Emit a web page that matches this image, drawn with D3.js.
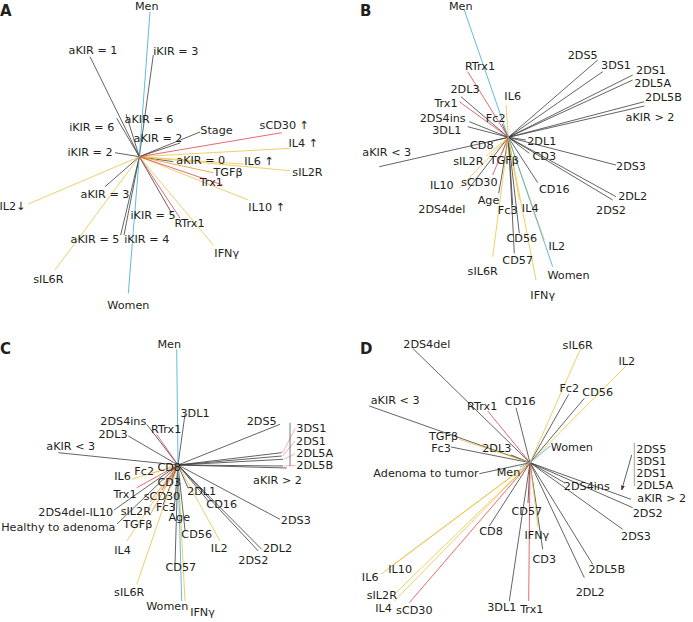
<!DOCTYPE html>
<html>
<head>
<meta charset="utf-8">
<script src="https://cdn.jsdelivr.net/npm/d3@7"></script>
<style>
body { margin: 0; background: #fff; }
text { font-family: "DejaVu Sans", Verdana, sans-serif; fill: #231f20; }
</style>
</head>
<body>
<div id="graph"></div>
<script>
// ---- Panel A: loadings (x, y) per term ----
const termsA = ["Men", "Women", "aKIR = 1", "iKIR = 3", "aKIR = 6", "iKIR = 6", "aKIR = 2", "Stage", "iKIR = 2",
    "sCD30 \u2191", "IL4 \u2191", "aKIR = 0", "IL6 \u2191", "sIL2R", "TGF\u03b2", "Trx1", "IL10 \u2191", "IFN\u03b3",
    "RTrx1", "iKIR = 5", "iKIR = 4", "aKIR = 5", "aKIR = 3", "IL2\u2193", "sIL6R"];
const xA = [0.107, -0.11, -0.493, 0.14, -0.133, -0.226, 0.407, 0.607, -0.243, 1.424, 1.507, 0.34, 1.037, 1.507,
    0.74, 0.834, 1.09, 0.74, 0.407, 0.324, -0.153, -0.186, -0.343, -1.11, -0.843];
const yA = [1.45, -1.366, 1.0, 1.017, 0.427, 0.384, 0.137, 0.247, 0.04, 0.24, 0.084, -0.05, -0.073, -0.14,
    -0.16, -0.283, -0.433, -0.883, -0.613, -0.566, -0.783, -0.783, -0.3, -0.473, -1.133];
const groupA = ["sex", "sex", "kir", "kir", "kir", "kir", "kir", "clin", "kir", "redox", "cyto", "kir", "cyto", "cyto",
    "tgf", "redox", "cyto", "cyto", "redox", "kir", "kir", "kir", "kir", "cyto", "cyto"];

// ---- Panel B ----
const termsB = ["Men", "Women", "RTrx1", "2DL3", "Trx1", "IL6", "Fc2", "2DS4ins", "3DL1", "CD8", "aKIR < 3", "sIL2R",
    "TGF\u03b2", "IL10", "sCD30", "2DS4del", "Age", "Fc3", "IL4", "CD56", "CD57", "sIL6R", "IFN\u03b3", "IL2", "CD16",
    "CD3", "2DL1", "2DS3", "2DL2", "2DS2", "2DS5", "3DS1", "2DS1", "2DL5A", "2DL5B", "aKIR > 2"];
const xB = [-0.44, 0.444, -0.406, -0.473, -0.49, -0.023, -0.063, -0.39, -0.406, -0.153, -1.29, -0.223, -0.063, -0.49,
    -0.156, -0.406, -0.096, 0.044, 0.11, 0.11, 0.06, -0.156, 0.277, 0.36, 0.294, 0.21, 0.177, 1.077, 1.077, 1.044,
    0.894, 0.944, 1.244, 1.244, 1.36, 1.36];
const yB = [1.273, -1.294, 0.656, 0.406, 0.356, 0.323, 0.133, 0.156, 0.106, -0.037, -0.294, -0.187, -0.16, -0.51,
    -0.377, -0.527, -0.56, -0.677, -0.627, -0.96, -1.16, -1.194, -1.427, -1.027, -0.454, -0.16, -0.027, -0.277, -0.594,
    -0.627, 0.773, 0.656, 0.623, 0.573, 0.356, 0.313];
const groupB = ["sex", "sex", "redox", "kir", "redox", "cyto", "cell", "kir", "kir", "cell", "kir", "cyto", "tgf", "cyto",
    "redox", "kir", "clin", "cell", "cyto", "cell", "cell", "cyto", "cyto", "cyto", "cell", "cell", "kir", "kir", "kir",
    "kir", "kir", "kir", "kir", "kir", "kir", "kir"];

// ---- Panel C ----
const termsC = ["Men", "Women", "IFN\u03b3", "3DL1", "RTrx1", "2DS4ins", "2DL3", "aKIR < 3", "2DS5", "3DS1", "2DS1",
    "2DL5A", "2DL5B", "aKIR > 2", "2DS3", "2DL2", "2DS2", "CD16", "2DL1", "IL2", "CD56", "CD57", "Age", "Fc3", "sCD30",
    "CD3", "CD8", "Fc2", "IL6", "Trx1", "sIL2R", "2DS4del-IL10", "Healthy to adenoma", "TGF\u03b2", "IL4", "sIL6R"];
const xC = [-0.013, 0.037, 0.07, 0.07, -0.213, -0.313, -0.497, -1.197, 1.02, 1.037, 1.037, 1.05, 1.05, 1.087, 1.02,
    0.837, 0.803, 0.303, 0.1, 0.42, 0.07, -0.03, -0.04, -0.15, -0.16, -0.06, -0.03, -0.247, -0.463, -0.413, -0.28,
    -0.64, -0.61, -0.28, -0.513, -0.413];
const yC = [1.157, -1.36, -1.36, 0.507, 0.307, 0.407, 0.29, 0.123, 0.407, 0.123, 0.09, 0.057, -0.01, -0.03, -0.543,
    -0.843, -0.86, -0.36, -0.23, -0.76, -0.65, -0.993, -0.46, -0.4, -0.25, -0.13, -0.02, -0.08, -0.143, -0.227, -0.37,
    -0.45, -0.59, -0.5, -0.76, -1.193];
const groupC = ["sex", "sex", "cyto", "kir", "redox", "kir", "kir", "kir", "kir", "kir", "kir", "kir", "kir", "kir", "kir",
    "kir", "kir", "cell", "kir", "cyto", "cell", "cell", "clin", "cell", "redox", "cell", "cell", "cyto", "cyto", "redox",
    "tgf", "kir", "clin", "tgf", "cyto", "cyto"];
const calloutC = ["3DS1", "2DS1", "2DL5A", "2DL5B"];

// ---- Panel D ----
const termsD = ["2DS4del", "sIL6R", "IL2", "Fc2", "CD56", "CD16", "RTrx1", "aKIR < 3", "TGF\u03b2", "Fc3", "2DL3",
    "Women", "Adenoma to tumor", "Men", "2DS4ins", "aKIR > 2", "2DS2", "2DS3", "2DL5B", "2DL2", "CD3", "IFN\u03b3",
    "CD57", "Trx1", "3DL1", "CD8", "sCD30", "IL4", "sIL2R", "IL6", "IL10"];
const xD = [-1.173, 0.51, 0.96, 0.387, 0.543, -0.14, -0.423, -1.607, -0.707, -0.79, -0.19, 0.2, -0.507, -0.1, 0.35,
    1.01, 1.027, 0.927, 0.627, 0.543, 0.127, 0.08, -0.02, -0.013, -0.207, -0.407, -1.207, -1.357, -1.34, -1.49, -1.407];
const yD = [1.144, 1.15, 0.967, 0.684, 0.644, 0.55, 0.517, 0.567, 0.234, 0.157, 0.077, 0.167, -0.11, -0.043, -0.203,
    -0.366, -0.45, -0.666, -1.016, -1.15, -0.866, -0.643, -0.403, -1.383, -1.383, -0.633, -1.4, -1.383, -1.3, -1.116,
    -1.05];
const groupD = ["kir", "cyto", "cyto", "cell", "cell", "cell", "redox", "kir", "cyto", "cell", "kir", "sex", "clin", "sex",
    "kir", "kir", "kir", "kir", "kir", "kir", "cell", "cyto", "cell", "redox", "kir", "cell", "redox", "cyto", "cyto",
    "cyto", "cyto"];
const bracketTermsD = ["2DS5", "3DS1", "2DS1", "2DL5A"];

// ---- layout: label offsets (px) from each vector tip ----
const offA = [[-3.3, -5], [0, 11.7], [3, -6.7], [22.5, -4], [23, 5.3], [-25, 9.4], [-22, -5], [16.5, -2], [-25, 0],
    [2.6, -7.7], [13.3, -5], [27.5, -1], [16, -3], [17.5, 2], [14.7, 0], [-11.4, -2.3], [18.4, 7.7], [13.4, 8.3],
    [9.5, 5.3], [-18.7, 1.7], [22.7, 4.3], [-25.7, 4.3], [0, 7.6], [-15.8, 2.7], [-6.7, 9.3]];
const offB = [[-3.5, -3.3], [15.8, 8.3], [12.3, -5], [4, -7.4], [-13.3, 1.6], [6.7, -8.3], [-6.3, -5.7], [-26.6, -3.4],
    [-20.9, 3.3], [-11.2, 4], [7.5, -14], [-17.7, 5], [2.3, 6.7], [-17.5, -3.3], [-13.4, 7.7], [-25.9, 19.3],
    [-10.2, 6.7], [-5, 5.7], [10.9, 8.3], [2.5, 5], [3.4, 6.7], [-10, 15], [6.7, 15], [12.5, 6], [16.6, 6.6], [15, 3.4],
    [15.8, 1.7], [15, 1], [16.7, 0], [-1.7, 10.7], [-15, -5], [13.3, -6.7], [18.3, -4.8], [20, 3], [19.2, -4],
    [5.7, 11.3]];
const offC = [[-7.5, -5], [-14.5, 5], [17.5, 11.7], [10, -0.6], [9.5, -5], [-23.4, -3.3], [-15.3, -1.7], [12.5, -6.7],
    [-18.3, -3.3], [29.6, -24.4], [29.3, -15], [31.7, -5.5], [31.7, -0.5], [-9.2, 12.3], [15.8, 1], [15.8, -1],
    [-5, 9.3], [13.4, 3.3], [13.7, 3], [-0.8, 7.3], [11.7, 4.3], [5.8, 3.4], [5.2, 6.7], [2.8, 2.7], [0, 6],
    [-2.8, 4.7], [-5.8, 0], [-9.1, -2], [-9.2, -3.3], [-11.7, 6.6], [-14.2, 9], [-38.2, 2.7], [-58.7, 3.7],
    [-12.2, 9.3], [-4.2, 9.3], [-7.5, 8.4]];
const offD = [[14.1, -4], [-3.3, -2.4], [0.8, -5], [0.6, -6], [13.4, -5.6], [4.2, -6.7], [-5.5, -5], [25.9, -5.7],
    [-15.8, -3], [-10, 1.2], [-14.2, -6.7], [21.8, 1.7], [-53.3, 0], [-11.5, 5.7], [21.8, 3], [30.8, -1], [15, 5.6],
    [13.3, 6.7], [14.1, 5], [5.9, 15], [1.6, 10], [-1.2, 8], [-1.2, 8], [3.1, 8.3], [-7.5, 6.7], [1.7, 5], [5, 7.6],
    [-10.8, 7.2], [-14.2, 2.4], [-10.8, 2.7], [10.9, 1.6]];

const width = 693;
const height = 622;

const svg = d3.select("#graph")
    .append("svg")
    .attr("width", width)
    .attr("height", height);

const colour = {
    sex: "#3aa8dc", cyto: "#e9c343", redox: "#e0424f", tgf: "#e6912e",
    kir: "#3c3c3c", cell: "#3c3c3c", clin: "#3c3c3c"
};
const drawOrder = { kir: 0, cell: 0, clin: 0, cyto: 1, tgf: 2, redox: 3, sex: 4 };

svg.append("defs").append("marker")
    .attr("id", "arrow")
    .attr("viewBox", "0 0 10 10")
    .attr("refX", 9).attr("refY", 5)
    .attr("markerWidth", 6).attr("markerHeight", 6)
    .attr("orient", "auto")
    .append("path")
    .attr("d", "M0,1 L10,5 L0,9 Z")
    .attr("fill", "#333");

const panels = [
    { tag: "A", tagPos: [0, 16], cx: 139.3, cy: 156.7, terms: termsA, xs: xA, ys: yA, groups: groupA, offs: offA },
    { tag: "B", tagPos: [360, 16], cx: 508.3, cy: 137.3, terms: termsB, xs: xB, ys: yB, groups: groupB, offs: offB },
    { tag: "C", tagPos: [0, 354], cx: 178, cy: 465, terms: termsC, xs: xC, ys: yC, groups: groupC, offs: offC },
    { tag: "D", tagPos: [360, 354], cx: 530, cy: 462.7, terms: termsD, xs: xD, ys: yD, groups: groupD, offs: offD }
];

panels.forEach(p => {
    // 1 loading unit = 100 px
    const x = d3.scaleLinear().domain([0, 1]).range([p.cx, p.cx + 100]);
    const y = d3.scaleLinear().domain([0, 1]).range([p.cy, p.cy - 100]);

    const rows = p.terms.map((t, i) => ({
        term: t, x: p.xs[i], y: p.ys[i], group: p.groups[i], off: p.offs[i]
    }));

    const g = svg.append("g");

    g.append("text")
        .attr("x", p.tagPos[0]).attr("y", p.tagPos[1])
        .attr("font-size", 15).attr("font-weight", "bold")
        .text(p.tag);

    const sorted = rows.slice().sort((a, b) => drawOrder[a.group] - drawOrder[b.group]);
    g.selectAll("line.vec")
        .data(sorted)
        .join("line")
        .attr("class", "vec")
        .attr("x1", x(0)).attr("y1", y(0))
        .attr("x2", d => x(d.x)).attr("y2", d => y(d.y))
        .attr("stroke", d => colour[d.group])
        .attr("stroke-width", 0.8);

    const labels = g.selectAll("text.lab")
        .data(rows)
        .join("text")
        .attr("class", "lab")
        .attr("x", d => x(d.x) + d.off[0])
        .attr("y", d => y(d.y) + d.off[1])
        .attr("text-anchor", "middle")
        .attr("dominant-baseline", "central")
        .attr("font-size", 11.2)
        .text(d => d.term);

    if (p.tag === "C") {
        // pink leaders from crowded KIR tips to their labels, with a bar
        labels.filter(d => calloutC.includes(d.term)).each(function (d) {
            const bb = this.getBBox();
            g.append("line")
                .attr("x1", x(d.x) + 1).attr("y1", y(d.y))
                .attr("x2", bb.x - 1).attr("y2", bb.y + bb.height / 2)
                .attr("stroke", "#f29aa6").attr("stroke-width", 0.8);
        });
        g.append("line")
            .attr("x1", x(1.12)).attr("x2", x(1.12))
            .attr("y1", y(0.423)).attr("y2", y(-0.01))
            .attr("stroke", "#555").attr("stroke-width", 0.8);
    }

    if (p.tag === "D") {
        g.append("line")
            .attr("x1", x(1.043)).attr("x2", x(1.043))
            .attr("y1", y(0.2)).attr("y2", y(-0.233))
            .attr("stroke", "#999").attr("stroke-width", 0.9);
        g.selectAll("text.br")
            .data(bracketTermsD)
            .join("text")
            .attr("class", "br")
            .attr("x", x(1.043) + 2)
            .attr("y", (d, i) => y(0.2) + 6.6 + i * 12)
            .attr("dominant-baseline", "central")
            .attr("font-size", 11.2)
            .text(d => d);
        g.append("line")
            .attr("x1", x(1.017)).attr("y1", y(0.077))
            .attr("x2", x(0.917)).attr("y2", y(-0.273))
            .attr("stroke", "#333").attr("stroke-width", 0.8)
            .attr("marker-end", "url(#arrow)");
    }
});
</script>
</body>
</html>
